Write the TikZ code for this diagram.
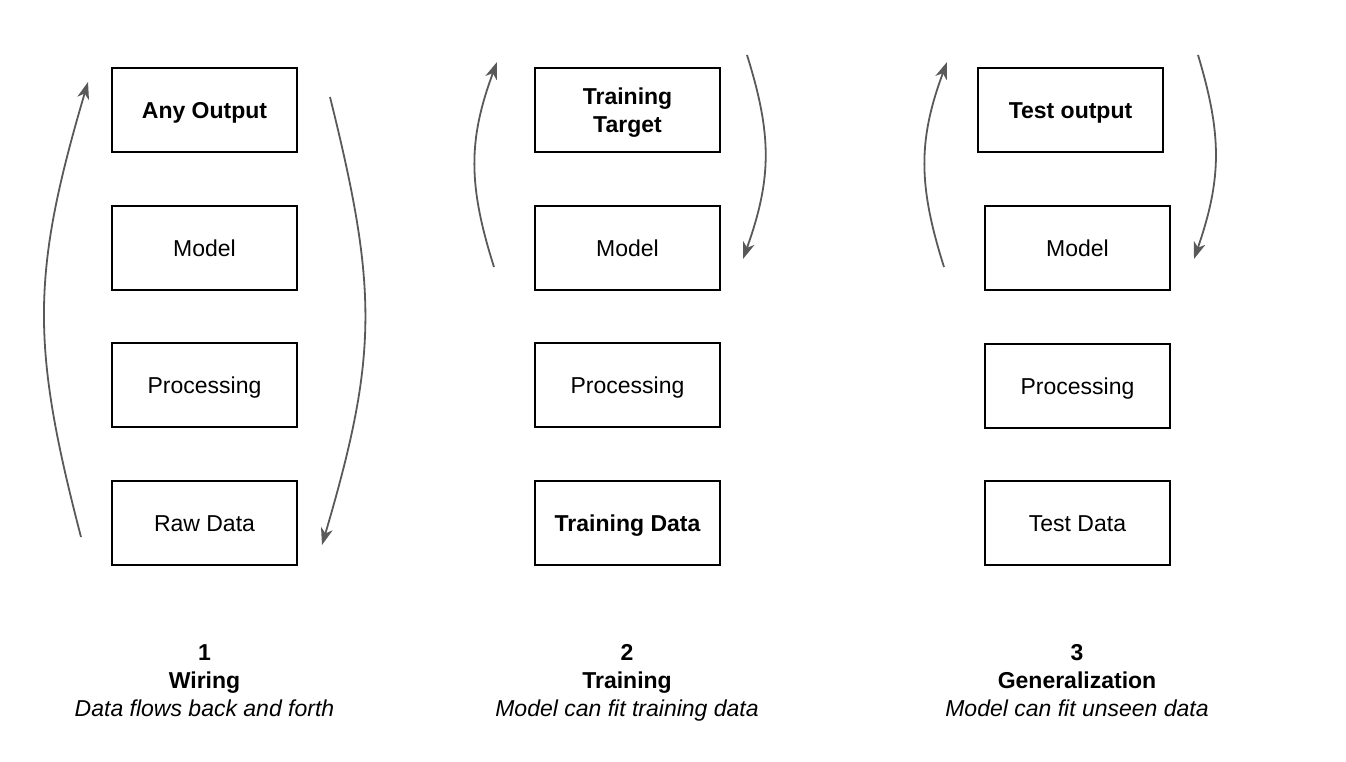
\documentclass[tikz,border=0pt]{standalone}
\usepackage{fontspec}
\setmainfont{Liberation Sans}
\usetikzlibrary{arrows.meta}
\definecolor{arrowgray}{HTML}{595959}
\begin{document}
\begin{tikzpicture}[x=1pt,y=-1pt,
  box/.style={draw=black,line width=1.3pt,minimum width=185pt,minimum height=84pt,inner sep=0pt,align=center,text height=16.5pt,text depth=0pt,font=\fontsize{23}{28}\selectfont},
  flow/.style={draw=arrowgray,line width=1.8pt,-{Stealth[length=17pt,width=12pt,inset=5pt]}},
  captext/.style={align=center,font=\fontsize{23}{28}\selectfont}]
\useasboundingbox (0,0) rectangle (1346,762);
% column 1
\node[box] (a1) at (204.5,110) {\bfseries Any Output};
\node[box] (a2) at (204.5,248) {Model};
\node[box] (a3) at (204.5,385) {Processing};
\node[box] (a4) at (204.5,523) {Raw Data};
% column 2
\node[box,text height=45.5pt] (b1) at (627.5,110) {\bfseries Training\\\bfseries Target};
\node[box] (b2) at (627.5,248) {Model};
\node[box] (b3) at (627.5,385) {Processing};
\node[box] (b4) at (627.5,523) {\bfseries Training Data};
% column 3
\node[box] (c1) at (1070.5,110) {\bfseries Test output};
\node[box] (c2) at (1077.5,248) {Model};
\node[box] (c3) at (1077.5,386) {Processing};
\node[box] (c4) at (1077.5,523) {Test Data};
% arrow end points
\coordinate (l1s) at (81,537);  \coordinate (l1e) at (88,82);
\coordinate (r1s) at (330,97);  \coordinate (r1e) at (322,545);
\coordinate (l2s) at (494,267); \coordinate (l2e) at (497,62);
\coordinate (r2s) at (747,55);  \coordinate (r2e) at (743,259);
\coordinate (l3s) at (944,267); \coordinate (l3e) at (947,62);
\coordinate (r3s) at (1198,55); \coordinate (r3e) at (1194,259);
\draw[flow] (l1s) .. controls (31,345) and (31,275) .. (l1e);
\draw[flow] (r1s) .. controls (378,290) and (378,355) .. (r1e);
\draw[flow] (l2s) .. controls (468,185) and (468,140) .. (l2e);
\draw[flow] (r2s) .. controls (772,135) and (772,178) .. (r2e);
\draw[flow] (l3s) .. controls (918,185) and (918,140) .. (l3e);
\draw[flow] (r3s) .. controls (1222,135) and (1222,178) .. (r3e);
% captions
\node[captext] (t1) at (204.5,682.5) {\strut\textbf{1}\\\strut\textbf{Wiring}\\\strut\textit{Data flows back and forth}};
\node[captext] (t2) at (627,683) {\strut\textbf{2}\\\strut\textbf{Training}\\\strut\textit{Model can fit training data}};
\node[captext] (t3) at (1077,683) {\strut\textbf{3}\\\strut\textbf{Generalization}\\\strut\textit{Model can fit unseen data}};
\end{tikzpicture}
\end{document}
